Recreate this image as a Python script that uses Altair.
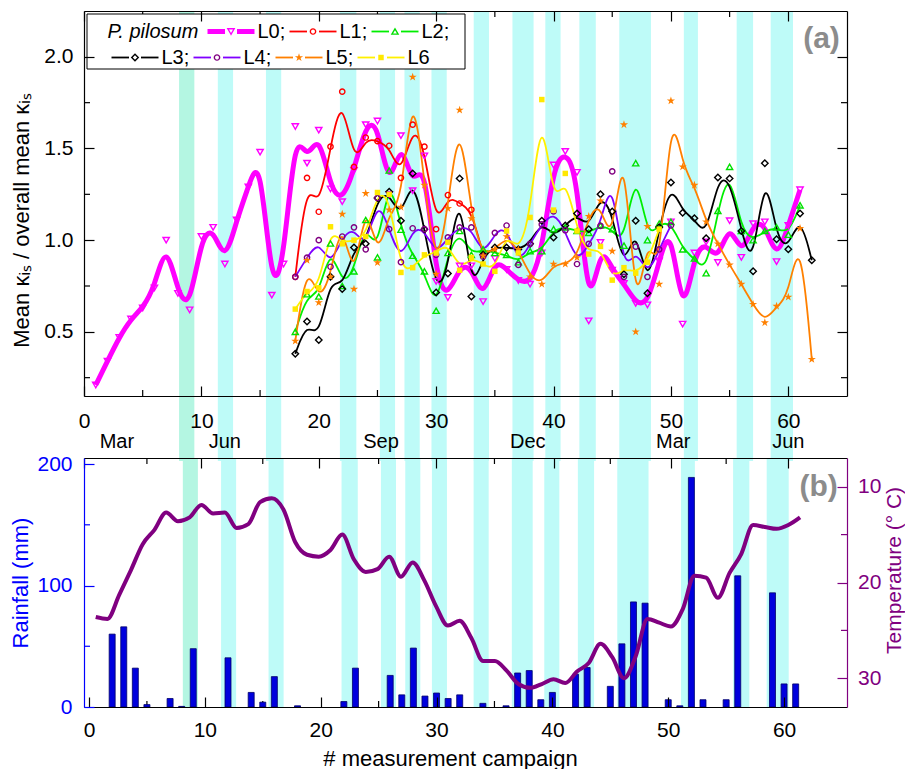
import altair as alt
import pandas as pd

FONT = "Liberation Sans"

# ---------------- panel (a): mean kappa_is / overall mean kappa_is ----------------
L0_first = 1
L0 = [0.21, 0.34, 0.47, 0.57, 0.63, 0.74, 1.00, 0.71, 0.62, 1.02,
      1.07, 0.87, 1.11, 1.29, 1.48, 0.70, 0.87, 1.62, 1.42, 1.60,
      1.28, 1.21, 1.38, 1.63, 1.65, 1.25, 1.57, 1.27, 1.46, 0.775,
      0.687, 0.86, 0.86, 0.665, 0.90, 0.84, 0.78, 0.76, 0.93, 1.41,
      1.484, 1.37, 0.56, 0.987, 0.836, 0.764, 0.655, 0.647, 0.887, 1.10,
      0.542, 0.93, 0.99, 0.878, 1.106, 0.906, 1.09, 1.10, 0.883, 1.08,
      1.275]
L1_first = 18
L1 = [0.80, 1.34, 1.155, 1.51, 1.81, 1.40, 1.56, 1.54, 1.515, 1.34,
      1.63, 1.51, 1.06, 1.246, 1.20, 1.166, 0.92]
L2_first = 18
L2 = [0.50, 0.705, 0.693, 0.982, 0.75, 0.83, 1.11, 0.906, 1.38, 1.057,
      0.915, 0.83, 0.615, 0.93, 1.05, 0.92, 0.95, 0.93, 0.92, 0.88,
      0.94, 0.94, 1.06, 1.07, 1.05, 1.04, 1.08, 1.06, 0.97, 1.42,
      1.00, 1.09, 1.10, 0.95, 0.90, 0.82, 1.16, 1.40, 1.05, 1.00,
      1.05, 1.07, 1.03, 1.19]
L3_first = 18
L3 = [0.38, 0.556, 0.455, 0.80, 0.733, 0.96, 0.98, 1.23, 1.264, 1.106,
      1.364, 1.06, 0.715, 0.818, 1.337, 0.693, 0.92, 0.96, 0.96, 0.95,
      0.98, 1.106, 1.015, 1.08, 1.146, 1.06, 1.25, 1.157, 0.814, 1.106,
      0.71, 1.07, 1.315, 1.15, 1.12, 1.01, 1.342, 1.337, 1.05, 0.83,
      1.42, 1.005, 0.95, 1.146, 0.89]
L4_first = 18
L4 = [0.80, 0.905, 1.00, 0.855, 1.02, 1.07, 0.95, 1.23, 1.06, 0.88,
      1.065, 1.06, 0.92, 1.015, 1.07, 1.07, 0.91, 1.04, 1.08, 0.865,
      0.98, 1.086, 1.157, 1.054, 0.87, 0.98, 1.078, 1.375, 0.80, 0.965,
      0.80, 0.95, 1.08]
L5_first = 18
L5 = [0.45, 0.89, 0.66, 0.80, 1.142, 0.733, 1.255, 0.878, 1.165, 1.18,
      1.89, 1.30, 0.815, 1.173, 1.71, 1.118, 0.915, 0.95, 1.02, 0.95,
      0.80, 0.76, 0.87, 0.87, 0.905, 1.13, 1.215, 0.94, 1.63, 0.50,
      1.075, 0.76, 1.76, 1.40, 1.30, 1.10, 0.98, 0.865, 0.76, 0.65,
      0.55, 0.64, 0.69, 1.064, 0.35]
L6_first = 18
L6 = [0.624, 0.72, 0.74, 1.073, 0.98, 1.00, 1.02, 1.26, 1.25, 0.824,
      0.85, 0.92, 0.93, 0.988, 0.836, 0.906, 0.87, 0.83, 1.05, 0.93,
      1.124, 1.767, 1.164, 1.364, 1.05, 0.924, 0.966, 0.782, 0.85, 0.82,
      0.88, 1.06]

# ---------------- panel (b): rainfall and temperature per campaign 1..61 ----------------
rain_mm = [0, 60, 66, 32, 2, 0, 7, 0.5, 48, 0,
           0, 40.5, 0, 12, 4, 25, 0, 1, 0, 0,
           0, 4.5, 32, 0, 0, 26, 10, 48.5, 9, 11.5,
           7, 10, 0, 3, 0, 1, 28, 30, 6, 12,
           0, 27, 32.5, 0, 17, 52, 86.5, 85.5, 0, 6,
           1, 189, 6, 0, 6, 108, 0, 0, 94, 19,
           19]
temp_c = [23.6, 23.8, 21.3, 18.7, 16.0, 14.5, 12.7, 13.6, 13.2, 11.9,
          12.8, 12.7, 14.3, 13.9, 11.6, 11.2, 12.4, 15.8, 17.1, 17.3,
          16.6, 15.0, 17.6, 18.9, 18.6, 17.3, 19.4, 17.9, 19.8, 22.5,
          24.5, 24.0, 25.8, 28.2, 28.2, 29.2, 30.6, 31.0, 30.6, 30.1,
          30.5, 29.3, 28.4, 26.4, 27.8, 30.0, 27.7, 23.8, 24.2, 24.6,
          22.8, 19.3, 19.5, 21.6, 19.0, 17.0, 14.0, 14.2, 14.4, 14.0,
          13.2]

# shaded periods (campaign units)
band_start = [8.1, 11.4, 15.5, 21.8, 25.2, 27.3, 29.6, 33.2, 36.5, 39.3, 42.2, 45.6, 51.1, 55.6, 58.5]
band_end = [9.4, 12.7, 16.8, 23.2, 26.5, 28.6, 30.9, 34.5, 38.3, 40.6, 43.6, 48.3, 52.3, 57.0, 60.4]

month_pos = [2.8, 12.0, 25.3, 37.8, 50.2, 60.0]
month_lab = ["Mar", "Jun", "Sep", "Dec", "Mar", "Jun"]

x_ticks = [0, 10, 20, 30, 40, 50, 60]
x_minor = [5, 15, 25, 35, 45, 55]
k_ticks = [0.5, 1.0, 1.5, 2.0]
k_minor = [0.25, 0.75, 1.25, 1.75]
rain_ticks = [0, 100, 200]
rain_minor = [50, 150]
temp_ticks = [10, 20, 30]
temp_minor = [15, 25]

series_names = ["L0", "L1", "L2", "L3", "L4", "L5", "L6"]
series_labels = ["L0;", "L1;", "L2;", "L3;", "L4;", "L5;", "L6"]
series_first = [L0_first, L1_first, L2_first, L3_first, L4_first, L5_first, L6_first]
series_vals = [L0, L1, L2, L3, L4, L5, L6]

# ---------------- styles / layout ----------------
W, H1, H2, GAP = 763, 385, 249, 62
MAJ, MIN = 10, 6
XDOM = [0, 65]
BLUE = "#0000FF"
PURPLE = "#800080"
MINT, CYAN = "#B4F6E2", "#BEFBF8"
STAR = ("M0,-1L0.2245,-0.309L0.951,-0.309L0.363,0.118L0.588,0.809L0,0.382"
        "L-0.588,0.809L-0.363,0.118L-0.951,-0.309L-0.2245,-0.309Z")
STY = {
    "L0": dict(line="#FF00FF", mark="#FF00FF", w=5, shape="triangle-down", filled=False, size=40),
    "L1": dict(line="#FF0000", mark="#FF0000", w=1.8, shape="circle", filled=False, size=28),
    "L2": dict(line="#00EE00", mark="#00E000", w=1.8, shape="triangle-up", filled=False, size=38),
    "L3": dict(line="#000000", mark="#000000", w=1.8, shape="diamond", filled=False, size=42),
    "L4": dict(line="#8000FF", mark="#800080", w=1.8, shape="circle", filled=False, size=28),
    "L5": dict(line="#FF8000", mark="#FF8000", w=1.8, shape=STAR, filled=True, size=75),
    "L6": dict(line="#FFF000", mark="#FFE800", w=1.8, shape="square", filled=True, size=30),
}


def ax(**kw):
    base = dict(grid=False, zindex=1, domainColor="black", tickColor="black",
                labelColor="black", labelFont=FONT, labelFontSize=21,
                titleFont=FONT, titleFontSize=22, titleFontWeight="normal",
                tickSize=alt.ExprRef(expr=f"-{MAJ}"), domainWidth=1.2, tickWidth=1.2,
                labelFlush=False, labelOverlap=False)
    base.update(kw)
    return alt.Axis(**base)


xs = alt.Scale(domain=XDOM, nice=False, zero=False)
ks = alt.Scale(domain=[0.15, 2.25], nice=False, zero=False)
rs = alt.Scale(domain=[0, 205], nice=False, zero=False)
ts = alt.Scale(domain=[7, 33], nice=False, zero=False, reverse=True)

AX_A_X = ax(orient="bottom", values=x_ticks, format="d", title=None, labelPadding=24)
AX_A_Y = ax(orient="left", values=k_ticks, format=".1f",
            title="Mean κᵢₛ / overall mean κᵢₛ", labelPadding=21, titlePadding=10, titleY=209)
AX_A_XT = ax(orient="top", values=x_ticks, labels=False, title=None)
AX_A_YR = ax(orient="right", values=k_ticks, labels=False, title=None)

AX_B_X = ax(orient="bottom", values=x_ticks, format="d", title="# measurement campaign",
            labelPadding=22, titlePadding=8, titleX=366)
AX_B_XT = ax(orient="top", values=x_ticks, labels=False, title=None)
AX_B_R = ax(orient="left", values=rain_ticks, title="Rainfall (mm)", domainColor=BLUE,
            tickColor=BLUE, labelColor=BLUE, titleColor=BLUE, labelPadding=22, titlePadding=4.5)
AX_B_T = ax(orient="right", values=temp_ticks, title="Temperature (° C)", domainColor=PURPLE,
            tickColor=PURPLE, labelColor=PURPLE, titleColor=PURPLE, labelPadding=20.5,
            titlePadding=3, titleFontSize=21, titleAngle=270, titleBaseline="top", titleY=112)


def XA(field="campaign"):
    return alt.X(f"{field}:Q", scale=xs, axis=AX_A_X)


def YA(field="value"):
    return alt.Y(f"{field}:Q", scale=ks, axis=AX_A_Y)


def XB(field="campaign"):
    return alt.X(f"{field}:Q", scale=xs, axis=AX_B_X)


bands_df = pd.DataFrame({"campaign": band_start, "end": band_end})
bands_df["fill"] = [MINT if i == 0 else CYAN for i in range(len(bands_df))]

xminor_df = pd.DataFrame({"campaign": x_minor})
kminor_df = pd.DataFrame({"value": k_minor})
one = pd.DataFrame({"k": [0]})

# ---------------- panel (a) layers ----------------
a_layers = []
a_layers.append(alt.Chart(bands_df).mark_rect().encode(
    x=XA(), x2="end:Q", y=alt.value(0), y2=alt.value(H1 + GAP + 3),
    color=alt.Color("fill:N", scale=None)))
a_layers.append(alt.Chart(xminor_df).mark_rule(color="black", strokeWidth=1.2).encode(
    x=XA(), y=alt.value(H1), y2=alt.value(H1 - MIN)))
a_layers.append(alt.Chart(xminor_df).mark_rule(color="black", strokeWidth=1.2).encode(
    x=XA(), y=alt.value(0), y2=alt.value(MIN)))
a_layers.append(alt.Chart(kminor_df).mark_rule(color="black", strokeWidth=1.2).encode(
    y=YA(), x=alt.value(0), x2=alt.value(MIN)))
a_layers.append(alt.Chart(kminor_df).mark_rule(color="black", strokeWidth=1.2).encode(
    y=YA(), x=alt.value(W), x2=alt.value(W - MIN)))

series_dfs = {}
for name, first, vals in zip(series_names, series_first, series_vals):
    series_dfs[name] = pd.DataFrame({"campaign": list(range(first, first + len(vals))), "value": vals})

for name in series_names:
    s = STY[name]
    a_layers.append(alt.Chart(series_dfs[name]).mark_line(
        interpolate="basis", color=s["line"], strokeWidth=s["w"]).encode(x=XA(), y=YA()))
for name in series_names:
    s = STY[name]
    a_layers.append(alt.Chart(series_dfs[name]).mark_point(
        shape=s["shape"], filled=s["filled"], size=s["size"], color=s["mark"],
        strokeWidth=1.4, opacity=1).encode(x=XA(), y=YA()))

# month names below the campaign axis
month_df = pd.DataFrame({"campaign": month_pos, "label": month_lab})
a_layers.append(alt.Chart(month_df).mark_text(
    font=FONT, fontSize=20, color="black", align="center", baseline="middle").encode(
    x=XA(), y=alt.value(H1 + 46), text="label:N"))

# legend box
LEG_BOX = (3, 381, 3, 58)
ROW_Y = [20.5, 46.5]
ROW_X0 = [123.5, 27.5]
STEP, SEG, HALF_GAP = 82, 47, 6
leg_rows = [0, 0, 0, 1, 1, 1, 1]
leg_cols = [0, 1, 2, 0, 1, 2, 3]

a_layers.append(alt.Chart(one).mark_rect(fill="white", stroke="black", strokeWidth=1).encode(
    x=alt.value(LEG_BOX[0]), x2=alt.value(LEG_BOX[1]), y=alt.value(LEG_BOX[2]), y2=alt.value(LEG_BOX[3])))
a_layers.append(alt.Chart(one).mark_text(
    font=FONT, fontSize=20, fontStyle="italic", align="left", baseline="middle", color="black").encode(
    x=alt.value(23.5), y=alt.value(ROW_Y[0]), text=alt.value("P. pilosum")))
for name, lab, r, c in zip(series_names, series_labels, leg_rows, leg_cols):
    s = STY[name]
    x0 = ROW_X0[r] + c * STEP
    xm = x0 + SEG / 2
    y = ROW_Y[r]
    for a, b in [(x0, xm - HALF_GAP), (xm + HALF_GAP, x0 + SEG)]:
        a_layers.append(alt.Chart(one).mark_rule(color=s["line"], strokeWidth=s["w"]).encode(
            x=alt.value(a), x2=alt.value(b), y=alt.value(y)))
    a_layers.append(alt.Chart(one).mark_point(
        shape=s["shape"], filled=s["filled"], size=s["size"], color=s["mark"],
        strokeWidth=1.4, opacity=1).encode(x=alt.value(xm), y=alt.value(y)))
    a_layers.append(alt.Chart(one).mark_text(
        font=FONT, fontSize=20, align="left", baseline="middle", color="black").encode(
        x=alt.value(x0 + SEG + 3), y=alt.value(y), text=alt.value(lab)))

a_layers.append(alt.Chart(one).mark_text(
    font=FONT, fontSize=30, fontWeight="bold", color="#8C8C8C", align="center", baseline="middle").encode(
    x=alt.value(W - 25.5), y=alt.value(28), text=alt.value("(a)")))

a_main = alt.layer(*a_layers)
a_dummy = alt.Chart(series_dfs["L0"]).mark_point(opacity=0).encode(
    x=alt.X("campaign:Q", scale=xs, axis=AX_A_XT),
    y=alt.Y("value:Q", scale=ks, axis=AX_A_YR))
panel_a = alt.layer(a_main, a_dummy).resolve_scale(x="independent", y="independent").properties(
    width=W, height=H1)

# ---------------- panel (b) layers ----------------
weather = pd.DataFrame({"campaign": list(range(1, len(rain_mm) + 1)), "rain": rain_mm, "temp": temp_c})
rain_df = weather[weather["rain"] > 0]


def YR(field="rain"):
    return alt.Y(f"{field}:Q", scale=rs, axis=AX_B_R)


b1 = []
b1.append(alt.Chart(bands_df).mark_rect().encode(
    x=XB(), x2="end:Q", y=alt.value(0), y2=alt.value(H2),
    color=alt.Color("fill:N", scale=None)))
b1.append(alt.Chart(xminor_df).mark_rule(color="black", strokeWidth=1.2).encode(
    x=XB(), y=alt.value(H2), y2=alt.value(H2 - MIN)))
b1.append(alt.Chart(xminor_df).mark_rule(color="black", strokeWidth=1.2).encode(
    x=XB(), y=alt.value(0), y2=alt.value(MIN)))
b1.append(alt.Chart(pd.DataFrame({"rain": rain_minor})).mark_rule(color=BLUE, strokeWidth=1.2).encode(
    y=YR(), x=alt.value(0), x2=alt.value(MIN)))
b1.append(alt.Chart(rain_df).mark_bar(size=6, color="#0000DD", stroke="#00006A", strokeWidth=0.8).encode(
    x=XB(), y=YR()))
b1.append(alt.Chart(one).mark_text(
    font=FONT, fontSize=30, fontWeight="bold", color="#8C8C8C", align="center", baseline="middle").encode(
    x=alt.value(W - 28.3), y=alt.value(29), text=alt.value("(b)")))
b_main = alt.layer(*b1)

XBT = alt.X("campaign:Q", scale=xs, axis=AX_B_XT)
YT = alt.Y("temp:Q", scale=ts, axis=AX_B_T)
b2 = alt.layer(
    alt.Chart(pd.DataFrame({"temp": temp_minor, "campaign": [0, 0]})).mark_rule(
        color=PURPLE, strokeWidth=1.2).encode(y=YT, x=alt.value(W), x2=alt.value(W - MIN)),
    alt.Chart(weather).mark_line(color=PURPLE, strokeWidth=4, interpolate="monotone").encode(
        x=XBT, y=YT),
)
panel_b = alt.layer(b_main, b2).resolve_scale(x="independent", y="independent").properties(
    width=W, height=H2)

chart = alt.vconcat(panel_a, panel_b, spacing=GAP, bounds="flush").properties(
    padding={"left": 1, "top": 2, "right": 0, "bottom": 0}
).configure(font=FONT).configure_view(stroke=None)

chart.save("out.html", embed_options={"renderer": "svg", "actions": False})
